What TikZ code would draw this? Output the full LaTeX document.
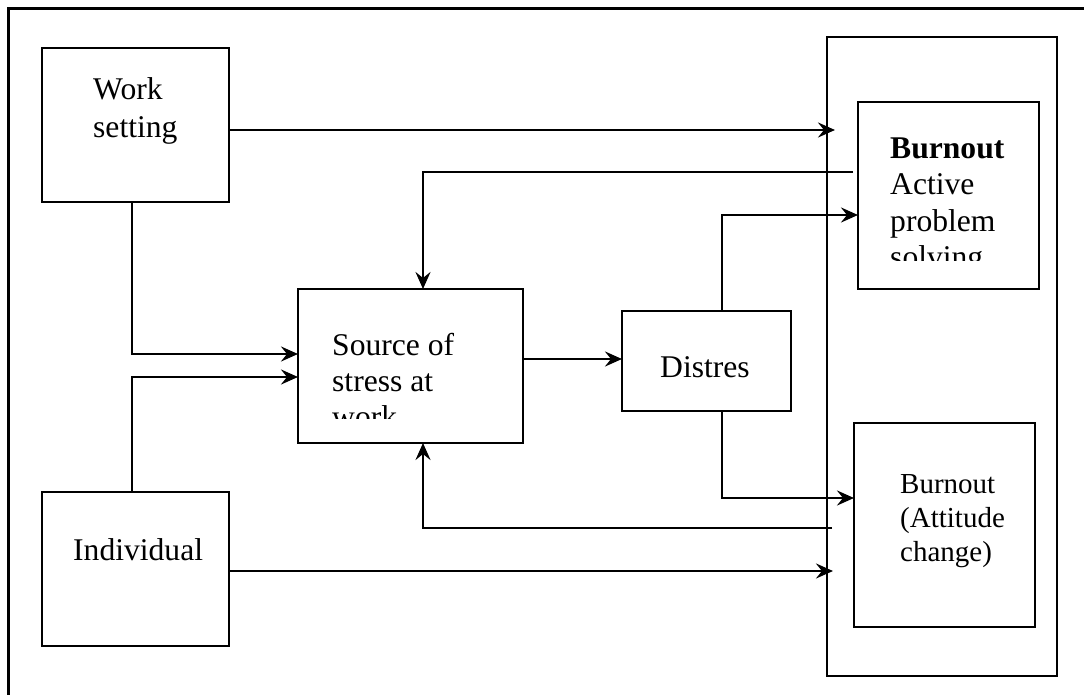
\documentclass[tikz,border=0pt]{standalone}
\usepackage{fontspec}
\setmainfont{Liberation Serif}
\usetikzlibrary{arrows.meta}
\begin{document}
\begin{tikzpicture}[x=1pt,y=-1pt,
  box/.style={draw,line width=2.8pt,inner sep=0pt,outer sep=0pt},
  arr/.style={line width=2.6pt,-{Stealth[length=17pt,width=15pt,inset=6pt]}},
  txt/.style={anchor=north west,inner sep=0pt,align=left,font=\fontsize{31.6}{37}\selectfont},
  one/.style={anchor=base west,inner sep=0pt,font=\fontsize{31.6}{37}\selectfont}
]
\useasboundingbox (0,0) rectangle (1084,695);
% outer frame
\coordinate (fa) at (8,695); \coordinate (fb) at (8,9); \coordinate (fc) at (1084,9);
\draw[line width=3pt] (fa) -- (fb) -- (fc);

% boxes
\node[box,minimum width=187pt,minimum height=154pt] (work) at (135.5,125) {};
\node[box,minimum width=187pt,minimum height=154pt] (indiv) at (135.5,569) {};
\node[box,minimum width=225pt,minimum height=154pt] (source) at (410.5,366) {};
\node[box,minimum width=169pt,minimum height=100pt] (distres) at (706.5,361) {};
\node[box,minimum width=230pt,minimum height=639pt] (big) at (942,356.5) {};
\node[box,minimum width=181pt,minimum height=187pt] (b1) at (948.5,195.5) {};
\node[box,minimum width=181pt,minimum height=204pt] (b2) at (944.5,525) {};

% texts
\node[txt,font=\fontsize{31.6}{38}\selectfont] (workT) at (93,72.4) {\strut Work\\setting};
\node[one] (indT) at (73,560) {Individual};
\node[one] (distT) at (660,377) {Distres};
\begin{scope}
  \clip (300,291) rectangle (521,418);
  \node[txt,font=\fontsize{31.6}{36}\selectfont] (srcT) at (332,329.8) {\strut Source of\\stress at\\work};
\end{scope}
\begin{scope}
  \clip (860,104) rectangle (1037,260);
  \node[txt,font=\fontsize{31.6}{36.5}\selectfont] (b1T) at (890,132.4) {\strut\textbf{Burnout}\\Active\\problem\\solving};
\end{scope}
\node[txt,font=\fontsize{29}{34}\selectfont] (b2T) at (900,469.2) {\strut Burnout\\(Attitude\\change)};

% connectors
\coordinate (wsEnd) at (835,130);
\draw[arr] (work.east |- wsEnd) -- (wsEnd);
\coordinate (yA) at (0,354);
\coordinate (yB) at (0,377);
\draw[arr] ([xshift=-3.5pt]work.south) |- (source.west |- yA);
\draw[arr] ([xshift=-3.5pt]indiv.north) |- (source.west |- yB);
\coordinate (yS) at (0,359);
\draw[arr] (source.east |- yS) -- (distres.west |- yS);
\coordinate (xD) at (722,0);
\coordinate (yC) at (0,215);
\draw[arr] (xD |- distres.north) |- (b1.west |- yC);
\coordinate (yE) at (0,498);
\draw[arr] (xD |- distres.south) |- (b2.west |- yE);
\coordinate (iEnd) at (833,571);
\draw[arr] (indiv.east |- iEnd) -- (iEnd);
\coordinate (f1) at (853,172);
\coordinate (xF) at (423,0);
\draw[arr] (f1) -| (xF |- source.north);
\coordinate (f2) at (832,528);
\draw[arr] (f2) -| (xF |- source.south);
\end{tikzpicture}
\end{document}
